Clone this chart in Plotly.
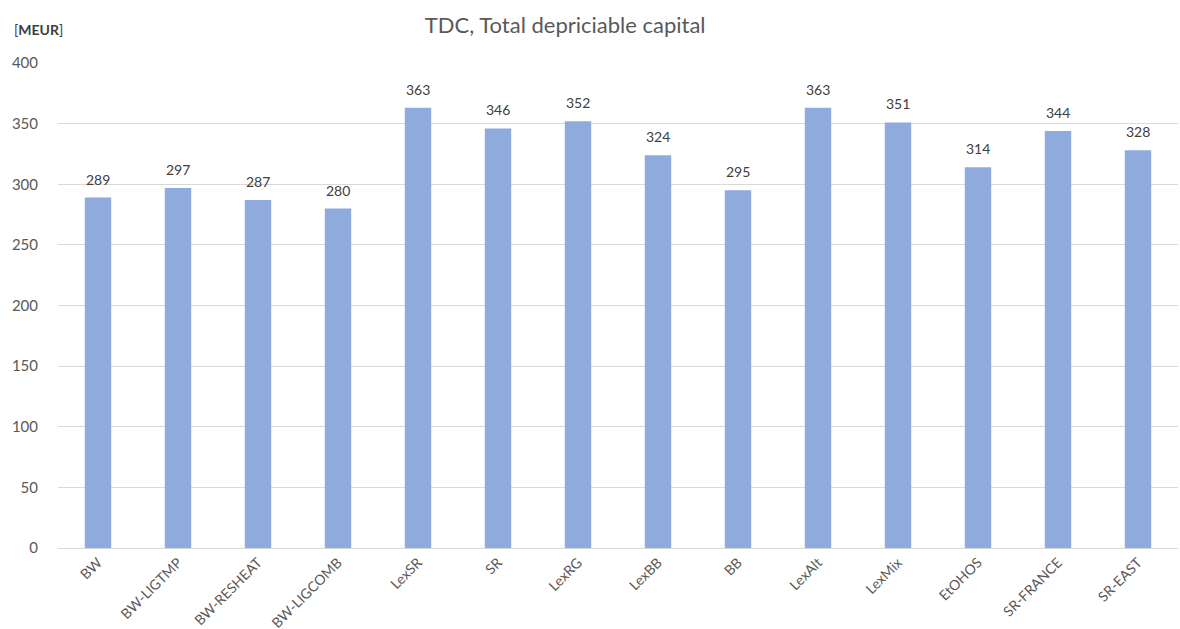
import plotly.graph_objects as go

categories = ["BW", "BW-LIGTMP", "BW-RESHEAT", "BW-LIGCOMB", "LexSR", "SR", "LexRG",
              "LexBB", "BB", "LexAlt", "LexMix", "EtOHOS", "SR-FRANCE", "SR-EAST"]
values = [289, 297, 287, 280, 363, 346, 352, 324, 295, 363, 351, 314, 344, 328]
y_ticks = [0, 50, 100, 150, 200, 250, 300, 350, 400]

FONT = "Lato, 'Liberation Sans', sans-serif"

fig = go.Figure(go.Bar(
    x=categories, y=values,
    marker=dict(color="#8FAADC", line=dict(width=0)),
    width=0.33,
))

annotations = [dict(x=c, y=v, text=str(v), xref="x", yref="y", showarrow=False,
                    yanchor="bottom", yshift=8,
                    font=dict(family=FONT, size=14, color="#404040"))
               for c, v in zip(categories, values)]
annotations.append(dict(text="[<b>MEUR</b>]", xref="paper", yref="paper",
                        x=-0.041, y=1.07, xanchor="left", yanchor="middle",
                        showarrow=False,
                        font=dict(family=FONT, size=14, color="#404040")))

fig.update_layout(
    width=1180, height=629,
    margin=dict(l=58, r=2, t=63, b=81),
    paper_bgcolor="white", plot_bgcolor="white",
    showlegend=False,
    title=dict(text="TDC, Total depriciable capital", x=0.479, xanchor="center",
               y=0.96, yanchor="middle",
               font=dict(family=FONT, size=22, color="#595959")),
    xaxis=dict(tickangle=-45, tickfont=dict(family=FONT, size=14, color="#595959"),
               showline=True, linecolor="#d9d9d9", linewidth=1, showgrid=False,
               ticks="", automargin=False),
    yaxis=dict(range=[0, 400], tickvals=y_ticks, showgrid=True, gridcolor="#d9d9d9",
               gridwidth=1, zeroline=False, automargin=False,
               tickfont=dict(family=FONT, size=15, color="#595959"),
               ticks="outside", ticklen=16, tickcolor="rgba(0,0,0,0)"),
    annotations=annotations,
)

fig.write_html("out.html")
